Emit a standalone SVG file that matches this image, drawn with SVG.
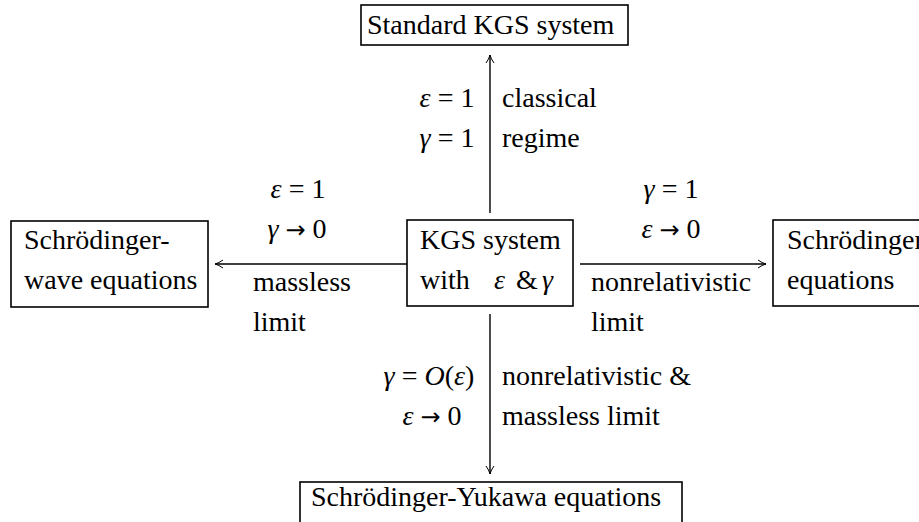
<svg xmlns="http://www.w3.org/2000/svg" width="919" height="522" viewBox="0 0 919 522">
<defs>
<marker id="ah" viewBox="0 0 10 10" refX="9" refY="5" markerWidth="10" markerHeight="10" markerUnits="userSpaceOnUse" orient="auto">
<path d="M1,1 Q5,4 9,5 Q5,6 1,9" fill="none" stroke="#000" stroke-width="1"/>
</marker>
</defs>
<style>
text{font-family:"Liberation Serif","DejaVu Serif",serif;font-size:28px;fill:#000}
.m{font-style:italic}
.a{font-family:"DejaVu Sans",sans-serif;font-size:24px}
.box{fill:#fff;stroke:#000;stroke-width:1.6}
.e{stroke:#000;stroke-width:1.4;fill:none}
.r{text-anchor:end}
.c{text-anchor:middle}
</style>
<g id="connectors">
<line class="e" x1="490" y1="213" x2="490" y2="55" marker-end="url(#ah)"/>
<line class="e" x1="407" y1="264" x2="215" y2="264" marker-end="url(#ah)"/>
<line class="e" x1="580" y1="264" x2="766" y2="264" marker-end="url(#ah)"/>
<line class="e" x1="490" y1="314" x2="490" y2="474" marker-end="url(#ah)"/>
<text class="c" x="447" y="107"><tspan class="m">ε</tspan> = 1</text>
<text class="c" x="447" y="147"><tspan class="m">γ</tspan> = 1</text>
<text x="502" y="107">classical</text>
<text x="502" y="147">regime</text>
<text class="c" x="298" y="198"><tspan class="m">ε</tspan> = 1</text>
<text class="c" x="297" y="238"><tspan class="m">γ</tspan> <tspan class="a">→</tspan> 0</text>
<text x="253" y="291">massless</text>
<text x="253" y="331">limit</text>
<text class="c" x="671" y="198"><tspan class="m">γ</tspan> = 1</text>
<text class="c" x="671" y="238"><tspan class="m">ε</tspan> <tspan class="a">→</tspan> 0</text>
<text x="591" y="291">nonrelativistic</text>
<text x="591" y="331">limit</text>
<text class="c" x="429" y="385"><tspan class="m">γ</tspan> = <tspan class="m">O</tspan>(<tspan class="m">ε</tspan>)</text>
<text class="c" x="432" y="425"><tspan class="m">ε</tspan> <tspan class="a">→</tspan> 0</text>
<text x="502" y="385">nonrelativistic &amp;</text>
<text x="502" y="425">massless limit</text>
</g>
<g id="standard">
<rect class="box" x="361" y="5" width="267" height="40"/>
<text x="367" y="34">Standard KGS system</text>
</g>
<g id="kgs">
<rect class="box" x="407" y="220" width="166" height="86"/>
<text x="420" y="249">KGS system</text>
<text y="289"><tspan x="420">with</tspan><tspan class="m" x="494">ε</tspan><tspan x="516">&amp;</tspan><tspan class="m" x="542">γ</tspan></text>
</g>
<g id="schwave">
<rect class="box" x="11" y="221" width="197" height="86"/>
<text x="24" y="249">Schrödinger-</text>
<text x="24" y="289">wave equations</text>
</g>
<g id="schright">
<rect class="box" x="773" y="220" width="160" height="86"/>
<text x="787" y="249">Schrödinger</text>
<text x="787" y="289">equations</text>
</g>
<g id="yukawa">
<rect class="box" x="300" y="482" width="382" height="45"/>
<text x="311" y="506">Schrödinger-Yukawa equations</text>
</g>
</svg>
